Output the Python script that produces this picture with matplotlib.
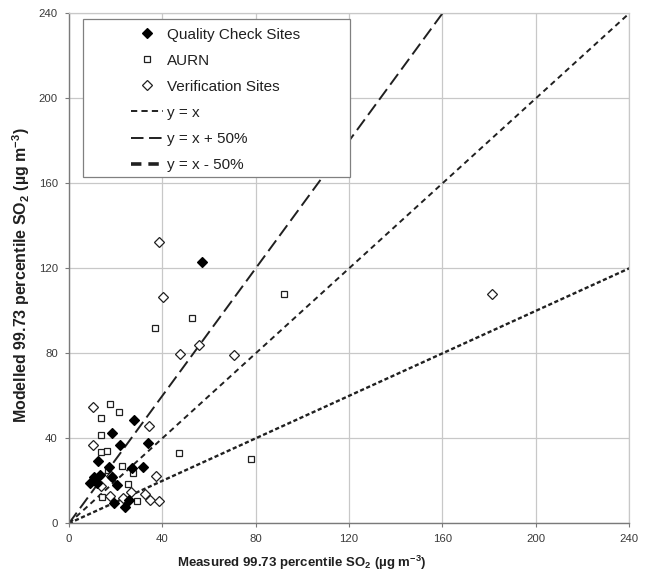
import matplotlib
matplotlib.use("Agg")
import matplotlib.pyplot as plt
from matplotlib.patches import Rectangle
from matplotlib.lines import Line2D

plt.rcParams['font.family'] = ['Liberation Sans', 'DejaVu Sans']
plt.rcParams['mathtext.fontset'] = 'custom'
plt.rcParams['mathtext.rm'] = 'Liberation Sans:bold'
plt.rcParams['mathtext.bf'] = 'Liberation Sans:bold'
plt.rcParams['mathtext.it'] = 'Liberation Sans:bold'
plt.rcParams['lines.scale_dashes'] = False

# ---------------- data ----------------
qc_x = [57.0, 27.9, 18.3, 21.9, 33.9, 12.5, 17.0, 27.0, 31.9, 10.6, 13.4, 18.5,
        9.2, 11.9, 20.6, 19.2, 24.2, 25.6]
qc_y = [122.8, 48.6, 42.6, 36.8, 37.6, 29.5, 26.6, 26.0, 26.4, 21.9, 22.7, 21.9,
        18.8, 18.8, 18.0, 9.4, 7.8, 11.0]

aurn_x = [92.2, 52.6, 37.0, 47.0, 78.0, 17.6, 21.6, 13.9, 13.9, 13.6, 16.4, 22.9,
          27.6, 25.4, 14.0, 29.3, 16.9]
aurn_y = [107.8, 96.8, 92.0, 32.9, 30.3, 56.1, 52.5, 49.4, 41.7, 33.7, 34.2, 27.0,
          23.5, 18.5, 12.5, 10.6, 25.1]

ver_x = [38.4, 40.2, 181.1, 55.7, 47.4, 70.6, 34.4, 10.2, 10.2, 17.9, 37.3, 13.6,
         26.5, 17.6, 32.6, 34.7, 38.7, 23.0]
ver_y = [132.5, 106.4, 107.8, 83.9, 79.8, 79.2, 45.6, 54.9, 36.8, 22.3, 22.3, 17.6,
         14.9, 12.8, 13.8, 11.0, 10.6, 11.8]

line_x = [0, 240]
factor_eq = 1.0
factor_plus = 1.5
factor_minus = 0.5

ticks = [0, 40, 80, 120, 160, 200, 240]

labels = ['Quality Check Sites', 'AURN', 'Verification Sites',
          'y = x', 'y = x + 50%', 'y = x - 50%']

# ---------------- figure ----------------
fig = plt.figure(figsize=(6.54, 5.71), dpi=100)
ax = fig.add_axes([0.1054, 0.0835, 0.8568, 0.8932])

ax.set_xlim(0, 240)
ax.set_ylim(0, 240)
ax.set_xticks(ticks)
ax.set_yticks(ticks)
ax.grid(True, color='#c8c8c8', linewidth=0.9, zorder=0)
ax.set_axisbelow(True)

for s in ['top', 'right']:
    ax.spines[s].set_color('#c8c8c8')
    ax.spines[s].set_linewidth(0.9)
for s in ['left', 'bottom']:
    ax.spines[s].set_color('#7a7a7a')
    ax.spines[s].set_linewidth(1.0)

ax.tick_params(axis='both', direction='out', length=3, width=0.8, color='#7a7a7a',
               labelsize=8.2, labelcolor='#3a3a3a', pad=5)

# reference lines
ln_col = '#202020'
h_eq, = ax.plot(line_x, [v * factor_eq for v in line_x], color=ln_col, lw=1.4,
                dashes=(4.0, 3.0), zorder=2)
h_plus, = ax.plot(line_x, [v * factor_plus for v in line_x], color=ln_col, lw=1.4,
                  dashes=(9.5, 4.0), zorder=2)
h_minus, = ax.plot(line_x, [v * factor_minus for v in line_x], color=ln_col, lw=1.7,
                   dashes=(3.0, 1.8), zorder=2)

# scatter series
h_aurn, = ax.plot(aurn_x, aurn_y, linestyle='none', marker='s', ms=5.0,
                  mfc='white', mec=ln_col, mew=0.9, zorder=4)
h_ver, = ax.plot(ver_x, ver_y, linestyle='none', marker='D', ms=4.6,
                 mfc='white', mec=ln_col, mew=0.9, zorder=4)
h_qc, = ax.plot(qc_x, qc_y, linestyle='none', marker='D', ms=4.6,
                mfc='black', mec='black', mew=0.9, zorder=5)

# legend proxies for line styles (as drawn in the original legend)
p_eq = Line2D([], [], color=ln_col, lw=1.4, dashes=(4.5, 3.0))
p_plus = Line2D([], [], color=ln_col, lw=1.4, dashes=(9.0, 4.0))
p_minus = Line2D([], [], color=ln_col, lw=2.6, dashes=(7.5, 5.0))

# legend frame
ax.add_patch(Rectangle((0.0246, 0.6796), 0.477, 0.3086, transform=ax.transAxes,
                       facecolor='white', edgecolor='#808080', lw=0.9, zorder=6))
leg = ax.legend([h_qc, h_aurn, h_ver, p_eq, p_plus, p_minus], labels,
                loc='upper left', bbox_to_anchor=(0.1108, 0.972), frameon=False,
                fontsize=11, borderpad=0, borderaxespad=0, handlelength=2.1,
                handletextpad=0.27, labelspacing=0.79, labelcolor='#202020')
leg.set_zorder(7)

ax.set_xlabel('Measured 99.73 percentile SO$_\\mathbf{2}$ (\u00b5g m$^\\mathbf{-3}$)',
              fontsize=9.5, fontweight='bold', color='#202020')
ax.set_ylabel('Modelled 99.73 percentile SO$_\\mathbf{2}$ (\u00b5g m$^\\mathbf{-3}$)',
              fontsize=11.5, fontweight='bold', color='#202020')
ax.xaxis.set_label_coords(0.416, -0.059)
ax.yaxis.set_label_coords(-0.066, 0.487)

fig.savefig('out.png', dpi=100, facecolor='white')
